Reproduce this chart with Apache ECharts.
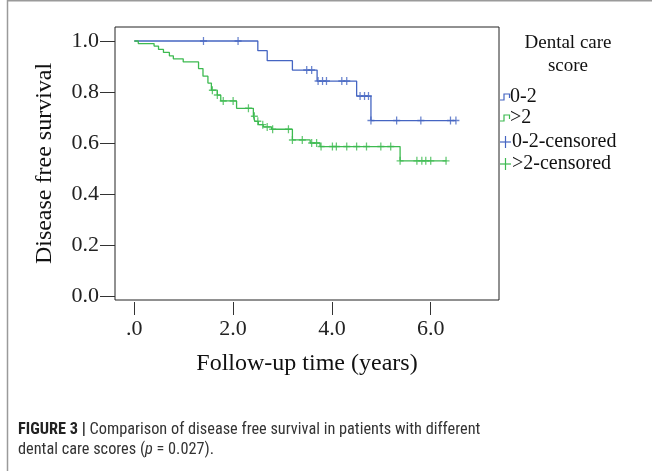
<!DOCTYPE html>
<html><head><meta charset="utf-8">
<script src="https://cdn.jsdelivr.net/npm/echarts@6/dist/echarts.min.js"></script>
<style>html,body{margin:0;padding:0;background:#fff}#c{width:652px;height:471px}</style>
</head><body><div id="c"></div>
<script>
// ---- data ----
const xTickValues = [0, 2, 4, 6];
const yTickValues = [0, 0.2, 0.4, 0.6, 0.8, 1.0];
const groupNames = ['0-2', '>2'];
const legendTitle = ['Dental care', 'score'];

// group 0-2 (blue) step curve
const blueTimes = [0, 2.50, 2.69, 3.20, 3.70, 4.50, 4.79, 6.51];
const blueSurv  = [1.0, 0.962, 0.923, 0.886, 0.843, 0.784, 0.688, 0.688];
// group 0-2 censored
const blueCensTimes = [1.40, 2.10, 3.49, 3.59, 3.72, 3.81, 3.89, 4.20, 4.30, 4.57, 4.66, 4.74, 4.79, 5.31, 5.80, 6.40, 6.51];
const blueCensSurv  = [1.0, 1.0, 0.886, 0.886, 0.843, 0.843, 0.843, 0.843, 0.843, 0.784, 0.784, 0.784, 0.688, 0.688, 0.688, 0.688, 0.688];

// group >2 (green) step curve
const greenTimes = [0, 0.08, 0.40, 0.49, 0.59, 0.71, 0.79, 0.99, 1.30, 1.39, 1.49, 1.56, 1.68, 1.75, 2.07, 2.41, 2.44, 2.51, 2.61, 2.78, 3.20, 3.56, 3.76, 5.38, 6.32];
const greenSurv  = [1.0, 0.990, 0.980, 0.967, 0.955, 0.942, 0.930, 0.918, 0.892, 0.862, 0.835, 0.807, 0.788, 0.765, 0.736, 0.705, 0.685, 0.672, 0.663, 0.654, 0.612, 0.600, 0.586, 0.530, 0.530];
// group >2 censored
const greenCensTimes = [1.58, 1.68, 1.80, 2.00, 2.31, 2.43, 2.50, 2.60, 2.69, 2.80, 3.12, 3.20, 3.40, 3.59, 3.69, 3.78, 4.01, 4.09, 4.30, 4.50, 4.70, 4.99, 5.19, 5.38, 5.72, 5.82, 5.90, 6.00, 6.31];
const greenCensSurv  = [0.807, 0.788, 0.765, 0.765, 0.736, 0.705, 0.685, 0.672, 0.663, 0.654, 0.654, 0.612, 0.612, 0.600, 0.600, 0.586, 0.586, 0.586, 0.586, 0.586, 0.586, 0.586, 0.586, 0.530, 0.530, 0.530, 0.530, 0.530, 0.530];

// ---- styling ----
const BLUE = '#4565C2';
const GREEN = '#3DBA50';
const SERIF = '"Liberation Serif", "Times New Roman", serif';
const SANSN = '"Liberation Sans Narrow", "Roboto Condensed", "Liberation Sans", sans-serif';
const CROSS = 'path://M-0.18,-1H0.18V-0.18H1V0.18H0.18V1H-0.18V0.18H-1V-0.18H-0.18Z';

const zip = (a, b) => a.map((v, i) => [v, b[i]]);

const chart = echarts.init(document.getElementById('c'), null, {renderer: 'canvas'});

const legendX = 500;
const legendRows = [97, 118, 142, 164];

chart.setOption({
  animation: false,
  backgroundColor: '#fff',
  grid: {left: 115, right: 153, top: 27, bottom: 171, show: true, borderColor: '#222', borderWidth: 1, backgroundColor: 'transparent'},
  xAxis: {
    type: 'value', min: -0.391, max: 7.382, offset: 2,
    name: 'Follow-up time (years)', nameLocation: 'middle', nameGap: 50,
    nameTextStyle: {fontFamily: SERIF, fontSize: 24, color: '#111'},
    axisLine: {show: false, onZero: false},
    axisTick: {show: true, length: 13, lineStyle: {color: '#333', width: 1}, customValues: xTickValues},
    axisLabel: {fontFamily: SERIF, fontSize: 22, color: '#222', margin: 16, customValues: xTickValues,
      formatter: v => (v === 0 ? '.0' : v.toFixed(1))},
    splitLine: {show: false}
  },
  yAxis: {
    type: 'value', min: -0.0157, max: 1.0549,
    name: 'Disease free survival', nameLocation: 'middle', nameGap: 58, nameRotate: 90,
    nameTextStyle: {fontFamily: SERIF, fontSize: 24, color: '#111'},
    axisLine: {show: false, onZero: false},
    axisTick: {show: true, length: 15, lineStyle: {color: '#333', width: 1}, customValues: yTickValues},
    axisLabel: {fontFamily: SERIF, fontSize: 22, color: '#222', margin: 16, customValues: yTickValues,
      formatter: v => v.toFixed(1)},
    splitLine: {show: false}
  },
  series: [
    {name: groupNames[0], type: 'line', step: 'end', data: zip(blueTimes, blueSurv), symbol: 'none',
     lineStyle: {color: BLUE, width: 1.3}, z: 3},
    {name: groupNames[1], type: 'line', step: 'end', data: zip(greenTimes, greenSurv), symbol: 'none',
     lineStyle: {color: GREEN, width: 1.3}, z: 4},
    {name: groupNames[0] + '-censored', type: 'scatter', data: zip(blueCensTimes, blueCensSurv),
     symbol: CROSS, symbolSize: [7, 8], itemStyle: {color: BLUE}, z: 5},
    {name: groupNames[1] + '-censored', type: 'scatter', data: zip(greenCensTimes, greenCensSurv),
     symbol: CROSS, symbolSize: [7, 8], itemStyle: {color: GREEN}, z: 6}
  ],
  graphic: [
    // figure frame
    {type: 'line', shape: {x1: 7.5, y1: 0, x2: 7.5, y2: 471}, style: {stroke: '#9a9a9a', lineWidth: 1.5}, silent: true},
    {type: 'line', shape: {x1: 7, y1: 0.75, x2: 652, y2: 0.75}, style: {stroke: '#9a9a9a', lineWidth: 1.5}, silent: true},
    // legend title
    {type: 'text', x: 568, y: 43, style: {text: legendTitle[0], fontFamily: SERIF, fontSize: 19, fill: '#111', align: 'center', verticalAlign: 'middle'}},
    {type: 'text', x: 568, y: 66, style: {text: legendTitle[1], fontFamily: SERIF, fontSize: 19, fill: '#111', align: 'center', verticalAlign: 'middle'}},
    // legend step glyphs
    {type: 'polyline', shape: {points: [[legendX, legendRows[0] + 3], [legendX + 4, legendRows[0] + 3], [legendX + 4, legendRows[0] - 3], [legendX + 9.5, legendRows[0] - 3], [legendX + 9.5, legendRows[0] + 1]]}, style: {stroke: BLUE, lineWidth: 1.2, fill: null}},
    {type: 'polyline', shape: {points: [[legendX, legendRows[1] + 3], [legendX + 4, legendRows[1] + 3], [legendX + 4, legendRows[1] - 3], [legendX + 9.5, legendRows[1] - 3], [legendX + 9.5, legendRows[1] + 1]]}, style: {stroke: GREEN, lineWidth: 1.2, fill: null}},
    // legend crosses
    {type: 'line', shape: {x1: legendX, y1: legendRows[2], x2: legendX + 11, y2: legendRows[2]}, style: {stroke: BLUE, lineWidth: 1.2}},
    {type: 'line', shape: {x1: legendX + 5.5, y1: legendRows[2] - 6, x2: legendX + 5.5, y2: legendRows[2] + 6}, style: {stroke: BLUE, lineWidth: 1.2}},
    {type: 'line', shape: {x1: legendX, y1: legendRows[3], x2: legendX + 11, y2: legendRows[3]}, style: {stroke: GREEN, lineWidth: 1.2}},
    {type: 'line', shape: {x1: legendX + 5.5, y1: legendRows[3] - 6, x2: legendX + 5.5, y2: legendRows[3] + 6}, style: {stroke: GREEN, lineWidth: 1.2}},
    // legend labels
    {type: 'text', x: legendX + 10, y: legendRows[0], style: {text: groupNames[0], fontFamily: SERIF, fontSize: 20, fill: '#111', verticalAlign: 'middle'}},
    {type: 'text', x: legendX + 10, y: legendRows[1], style: {text: groupNames[1], fontFamily: SERIF, fontSize: 20, fill: '#111', verticalAlign: 'middle'}},
    {type: 'text', x: legendX + 12, y: legendRows[2], style: {text: groupNames[0] + '-censored', fontFamily: SERIF, fontSize: 20, fill: '#111', verticalAlign: 'middle'}},
    {type: 'text', x: legendX + 12, y: legendRows[3], style: {text: groupNames[1] + '-censored', fontFamily: SERIF, fontSize: 20, fill: '#111', verticalAlign: 'middle'}},
    // caption
    {type: 'text', x: 18, y: 420, style: {
      text: '{b|FIGURE 3 |} Comparison of disease free survival in patients with different\ndental care scores ({i|p} = 0.027).',
      fontFamily: SANSN, fontSize: 16.3, lineHeight: 20, fill: '#333', verticalAlign: 'top',
      rich: {
        b: {fontFamily: SANSN, fontSize: 16.3, fontWeight: 'bold', fill: '#222', lineHeight: 20},
        i: {fontFamily: SANSN, fontSize: 16.3, fontStyle: 'italic', fill: '#333', lineHeight: 20}
      }
    }}
  ]
});
</script>
</body></html>
